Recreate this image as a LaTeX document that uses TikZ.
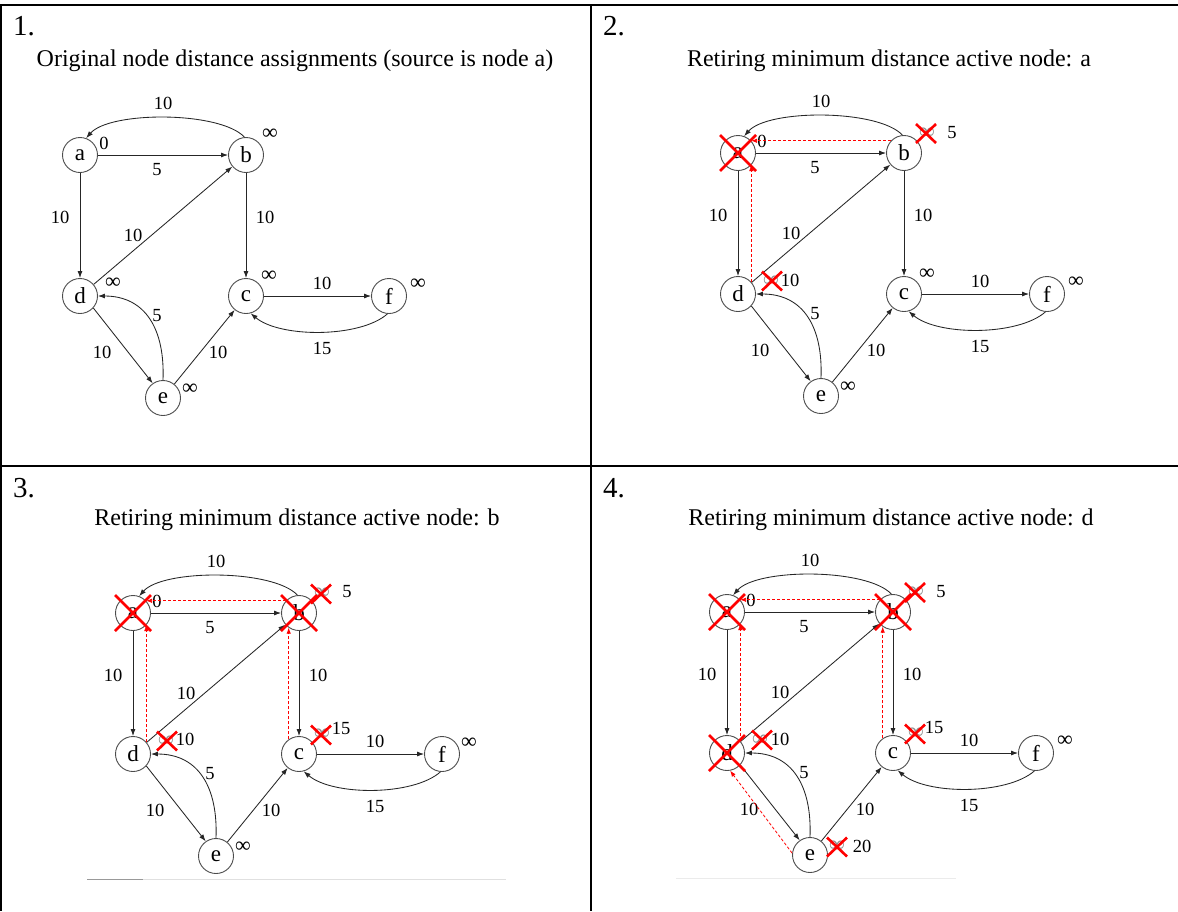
\documentclass[tikz,border=0pt]{standalone}
\usepackage{fontspec}
\setmainfont{Liberation Serif}
\usetikzlibrary{arrows.meta}
\tikzset{
  vtx/.style={circle, draw=black!70, line width=0.9pt, minimum size=35pt, inner sep=0pt, font=\fontsize{23}{23}\selectfont},
  gedge/.style={draw=black!85, line width=0.85pt, -{Latex[length=7pt,width=5pt]}},
  lab/.style={font=\fontsize{18.5}{18.5}\selectfont, inner sep=0pt},
  inf/.style={font=\fontsize{22}{22}\selectfont, inner sep=0pt},
  infgone/.style={inf, text=black!45},
  predline/.style={draw=red, line width=0.8pt, dash pattern=on 3pt off 2pt, -{Latex[length=6pt,width=4.5pt]}},
  redx/.style={draw=red, line width=2.6pt},
  ttl/.style={font=\fontsize{24}{24}\selectfont, anchor=base, inner sep=0pt},
  pnum/.style={font=\fontsize{29}{29}\selectfont, anchor=base west, inner sep=0pt},
  tableline/.style={line width=2pt, draw=black},
  faint/.style={line width=1pt, draw=black!12},
}
\newcommand\dgraph[1]{%
  \node[vtx] (#1a) at (0,0) {a};
  \node[vtx] (#1b) at (166,0) {b};
  \node[vtx] (#1d) at (0,141) {d};
  \node[vtx] (#1c) at (166,141) {c};
  \node[vtx] (#1f) at (309,141) {f};
  \node[vtx] (#1e) at (83,243) {e};
  \draw[gedge] (#1b.95) .. controls (140,-44) and (30,-44) .. (#1a.70);
  \draw[gedge] (#1a) -- (#1b);
  \draw[gedge] (#1a) -- (#1d);
  \draw[gedge] (#1b) -- (#1c);
  \draw[gedge] (#1d) -- (#1b);
  \draw[gedge] (#1c) -- (#1f);
  \draw[gedge] (#1f.265) .. controls (280,183) and (200,183) .. (#1c.285);
  \draw[gedge] (#1d.-42) -- (#1e.125);
  \draw[gedge] (#1e.90) .. controls (85,175) and (66,141) .. (#1d.0);
  \draw[gedge] (#1e) -- (#1c);
  \node[lab] (#1lba) at (83,-52) {10};
  \node[lab] (#1lab) at (77,15) {5};
  \node[lab] (#1lad) at (-20,62) {10};
  \node[lab] (#1lbc) at (185,62) {10};
  \node[lab] (#1ldb) at (53,80) {10};
  \node[lab] (#1lcf) at (242,128) {10};
  \node[lab] (#1lfc) at (242,193) {15};
  \node[lab] (#1lde) at (22,197) {10};
  \node[lab] (#1led) at (77,161) {5};
  \node[lab] (#1lec) at (138,197) {10};
  \node[lab] (#1da) at (24,-12) {0};
}
\newcommand\bigcross[1]{\draw[redx] (#1.center) +(-18,-18) -- +(18,18) +(-18,18) -- +(18,-18);}
\newcommand\smallcross[2]{\draw[redx] (#1,#2) +(-10,-9.5) -- +(10,9.5) +(-10,9.5) -- +(10,-9.5);}
\begin{document}
\begin{tikzpicture}[x=1pt,y=-1pt]
\fill[white] (0,0) rectangle (1178,911);
\useasboundingbox (0,0) rectangle (1178,911);
% table
\draw[tableline] (0,5) -- (1178,5);
\draw[tableline] (1.2,4) -- (1.2,911);
\draw[tableline] (591,4) -- (591,911);
\draw[tableline] (0,466) -- (1178,466);
% panel numbers and titles
\node[pnum] (n1) at (13,35) {1.};
\node[pnum] (n2) at (603,35) {2.};
\node[pnum] (n3) at (13,497) {3.};
\node[pnum] (n4) at (603,497) {4.};
\node[ttl] (t1) at (295,66) {Original node distance assignments (source is node a)};
\node[ttl] (t2) at (889,66) {Retiring minimum distance active node: a};
\node[ttl] (t3) at (297,525) {Retiring minimum distance active node: b};
\node[ttl] (t4) at (891,525) {Retiring minimum distance active node: d};
% faint artefact lines
\draw[faint, draw=black!40] (87,879) -- (143,879);
\draw[faint] (143,879) -- (506,879);
\draw[faint, draw=black!8] (676,878) -- (956,878);
% ---------------- panel 1
\begin{scope}[shift={(80,155)}]
  \dgraph{p1}
  \node[inf] (p1ib) at (190,-21) {∞};
  \node[inf] (p1ic) at (189,121) {∞};
  \node[inf] (p1id) at (33,128) {∞};
  \node[inf] (p1if) at (338,129) {∞};
  \node[inf] (p1ie) at (110,234) {∞};
\end{scope}
% ---------------- panel 2
\begin{scope}[shift={(738,153)}]
  \dgraph{p2}
  \node[infgone] (p2ib) at (189,-20) {∞};
  \node[lab] (p2vb) at (214,-20) {5};
  \node[infgone] (p2id) at (33,128) {∞};
  \node[lab] (p2vd) at (52,127) {10};
  \node[inf] (p2ic) at (189,121) {∞};
  \node[inf] (p2if) at (338,129) {∞};
  \node[inf] (p2ie) at (110,234) {∞};
  \draw[predline] (p2b.137) -- (p2a.43);
  \draw[predline] (p2d.42) -- (p2a.-42);
  \bigcross{p2a}
  \smallcross{188}{-19.5}
  \smallcross{34}{128}
\end{scope}
% ---------------- panel 3
\begin{scope}[shift={(133,613)}]
  \dgraph{p3}
  \node[infgone] (p3ib) at (189,-20) {∞};
  \node[lab] (p3vb) at (214,-21) {5};
  \node[infgone] (p3id) at (33,128) {∞};
  \node[lab] (p3vd) at (52,126) {10};
  \node[infgone] (p3ic) at (189,121) {∞};
  \node[lab] (p3vc) at (208,115) {15};
  \node[inf] (p3if) at (336,130) {∞};
  \node[inf] (p3ie) at (110,234) {∞};
  \draw[predline] (p3b.137) -- (p3a.43);
  \draw[predline] (p3d.42) -- (p3a.-42);
  \draw[predline] (p3c.125) -- (p3b.235);
  \bigcross{p3a}
  \bigcross{p3b}
  \smallcross{188}{-19}
  \smallcross{34}{128}
  \smallcross{188}{122}
\end{scope}
% ---------------- panel 4
\begin{scope}[shift={(727,612)}]
  \dgraph{p4}
  \node[infgone] (p4ib) at (189,-20) {∞};
  \node[lab] (p4vb) at (214,-20) {5};
  \node[infgone] (p4id) at (33,128) {∞};
  \node[lab] (p4vd) at (53,127) {10};
  \node[infgone] (p4ic) at (189,121) {∞};
  \node[lab] (p4vc) at (207,115) {15};
  \node[inf] (p4if) at (338,129) {∞};
  \node[infgone] (p4ie) at (110,234) {∞};
  \node[lab] (p4ve) at (135,234) {20};
  \draw[predline] (p4b.137) -- (p4a.43);
  \draw[predline] (p4d.42) -- (p4a.-42);
  \draw[predline] (p4c.125) -- (p4b.235);
  \draw[predline] (p4e.174) -- (p4d.-80);
  \bigcross{p4a}
  \bigcross{p4b}
  \bigcross{p4d}
  \smallcross{188}{-19.5}
  \smallcross{35}{128}
  \smallcross{188}{122}
  \smallcross{110}{235}
\end{scope}
\end{tikzpicture}
\end{document}
